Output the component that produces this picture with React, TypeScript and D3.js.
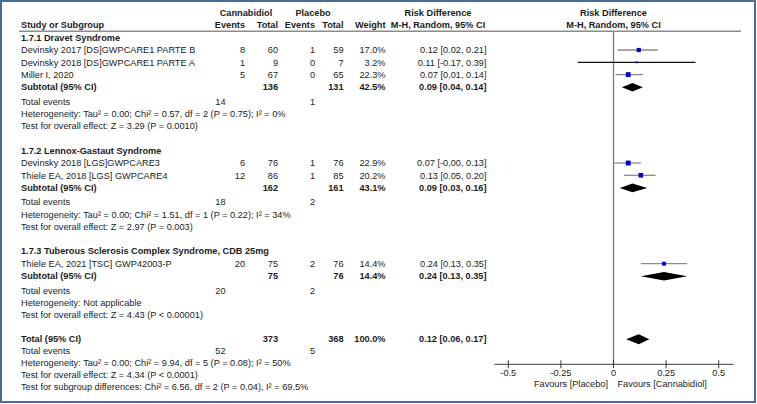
import React from 'react';
import * as d3 from 'd3';

// ---------- data ----------
const groupLabels = [
  '1.7.1 Dravet Syndrome',
  '1.7.2 Lennox-Gastaut Syndrome',
  '1.7.3 Tuberous Sclerosis Complex Syndrome, CDB 25mg',
];
const studyGroup = [0, 0, 0, 1, 1, 2];
const studyNames = [
  'Devinsky 2017 [DS]GWPCARE1 PARTE B',
  'Devinsky 2018 [DS]GWPCARE1 PARTE A',
  'Miller I, 2020',
  'Devinsky 2018 [LGS]GWPCARE3',
  'Thiele EA, 2018 [LGS] GWPCARE4',
  'Thiele EA, 2021 [TSC] GWP42003-P',
];
const cbdEvents = [8, 1, 5, 6, 12, 20];
const cbdTotal = [60, 9, 67, 76, 86, 75];
const plcEvents = [1, 0, 0, 1, 1, 2];
const plcTotal = [59, 7, 65, 76, 85, 76];
const studyWeight = [17.0, 3.2, 22.3, 22.9, 20.2, 14.4];
const studyRd = [0.12, 0.11, 0.07, 0.07, 0.13, 0.24];
const studyLow = [0.02, -0.17, 0.01, -0.0, 0.05, 0.13];
const studyHigh = [0.21, 0.39, 0.14, 0.13, 0.2, 0.35];
const studyCiLabels = [
  '0.12 [0.02, 0.21]',
  '0.11 [-0.17, 0.39]',
  '0.07 [0.01, 0.14]',
  '0.07 [-0.00, 0.13]',
  '0.13 [0.05, 0.20]',
  '0.24 [0.13, 0.35]',
];

const subCbdTotal = [136, 162, 75];
const subPlcTotal = [131, 161, 76];
const subWeight = [42.5, 43.1, 14.4];
const subRd = [0.09, 0.09, 0.24];
const subLow = [0.04, 0.03, 0.13];
const subHigh = [0.14, 0.16, 0.35];
const subCiLabels = ['0.09 [0.04, 0.14]', '0.09 [0.03, 0.16]', '0.24 [0.13, 0.35]'];
const subCbdEvents = [14, 18, 20];
const subPlcEvents = [1, 2, 2];
const subHeterogeneity = [
  'Heterogeneity: Tau² = 0.00; Chi² = 0.57, df = 2 (P = 0.75); I² = 0%',
  'Heterogeneity: Tau² = 0.00; Chi² = 1.51, df = 1 (P = 0.22); I² = 34%',
  'Heterogeneity: Not applicable',
];
const subOverall = [
  'Test for overall effect: Z = 3.29 (P = 0.0010)',
  'Test for overall effect: Z = 2.97 (P = 0.003)',
  'Test for overall effect: Z = 4.43 (P < 0.00001)',
];

const totalCbd = 373;
const totalPlc = 368;
const totalWeight = 100.0;
const totalRd = 0.12;
const totalLow = 0.06;
const totalHigh = 0.17;
const totalCiLabel = '0.12 [0.06, 0.17]';
const totalCbdEvents = 52;
const totalPlcEvents = 5;
const totalHeterogeneity = 'Heterogeneity: Tau² = 0.00; Chi² = 9.94, df = 5 (P = 0.08); I² = 50%';
const totalOverall = 'Test for overall effect: Z = 4.34 (P < 0.0001)';
const subgroupDiff = 'Test for subgroup differences: Chi² = 6.56, df = 2 (P = 0.04), I² = 69.5%';

const tickValues = [-0.5, -0.25, 0, 0.25, 0.5];
const tickLabels = ['-0.5', '-0.25', '0', '0.25', '0.5'];
const favoursLeft = 'Favours [Placebo]';
const favoursRight = 'Favours [Cannabidiol]';

// ---------- layout ----------
const W = 757;
const H = 404;
const FONT = "'Liberation Sans', Arial, Helvetica, sans-serif";
const FS = 9.2;
const TXT = '#1c1c1c';

const col = {
  name: 21,
  cbdEv: 245,
  cbdTot: 278,
  plcEv: 315,
  plcTot: 343.5,
  weight: 385.5,
  ci: 486.5,
  ciHead: 438,
  cbdTotEvents: 225.5,
  plcTotEvents: 315,
};

const pct = (v: number) => v.toFixed(1) + '%';

type Row =
  | { type: 'group'; y: number; g: number }
  | { type: 'study'; y: number; i: number }
  | { type: 'sub'; y: number; g: number }
  | { type: 'events'; y: number; g: number }
  | { type: 'het'; y: number; g: number }
  | { type: 'test'; y: number; g: number };

function buildRows() {
  const rows: Row[] = [];
  let y = 37.2;
  groupLabels.forEach((_, g) => {
    if (g > 0) y += 24.4;
    rows.push({ type: 'group', y, g });
    y += 12.8;
    studyNames
      .map((_, i) => i)
      .filter((i) => studyGroup[i] === g)
      .forEach((i, k) => {
        if (k > 0) y += 12.3;
        rows.push({ type: 'study', y, i });
      });
    y += 12.3;
    rows.push({ type: 'sub', y, g });
    y += 14.3;
    rows.push({ type: 'events', y, g });
    y += 12.3;
    rows.push({ type: 'het', y, g });
    y += 12.3;
    rows.push({ type: 'test', y, g });
  });
  const totalY = y + 24;
  return { rows, totalY };
}

const T = (props: any) => {
  const { x, y, anchor = 'start', bold = false, children, fill = TXT } = props;
  return (
    <text
      x={x}
      y={y + 3.3}
      textAnchor={anchor}
      fontWeight={bold ? 'bold' : 'normal'}
      fontFamily={FONT}
      fontSize={FS}
      fill={fill}
    >
      {children}
    </text>
  );
};

export default function App() {
  const x = d3.scaleLinear().domain([-0.5, 0.5]).range([508.3, 718.7]);
  const { rows, totalY } = buildRows();
  const axisY = 364.3;
  const zeroTop = 32;
  const sq = d3.scaleSqrt().domain([0, 100]).range([0, 10.2]);

  const diamond = (y: number, lo: number, est: number, hi: number, hh: number) =>
    `M${x(lo)},${y} L${x(est)},${y - hh} L${x(hi)},${y} L${x(est)},${y + hh} Z`;

  const els: React.ReactNode[] = [];
  rows.forEach((r, k) => {
    if (r.type === 'group') {
      els.push(
        <T key={k} x={col.name} y={r.y} bold>
          {groupLabels[r.g]}
        </T>
      );
    } else if (r.type === 'study') {
      const i = r.i;
      const s = sq(studyWeight[i]);
      els.push(
        <g key={k}>
          <T x={col.name} y={r.y}>{studyNames[i]}</T>
          <T x={col.cbdEv} y={r.y} anchor="end">{cbdEvents[i]}</T>
          <T x={col.cbdTot} y={r.y} anchor="end">{cbdTotal[i]}</T>
          <T x={col.plcEv} y={r.y} anchor="end">{plcEvents[i]}</T>
          <T x={col.plcTot} y={r.y} anchor="end">{plcTotal[i]}</T>
          <T x={col.weight} y={r.y} anchor="end">{pct(studyWeight[i])}</T>
          <T x={col.ci} y={r.y} anchor="end">{studyCiLabels[i]}</T>
          <line
            x1={x(studyLow[i])}
            x2={x(studyHigh[i])}
            y1={r.y}
            y2={r.y}
            stroke={i === 1 ? '#111' : '#8a8a8a'}
            strokeWidth={1.3}
          />
          <rect x={x(studyRd[i]) - s / 2} y={r.y - s / 2} width={s} height={s} fill="#0000cc" />
        </g>
      );
    } else if (r.type === 'sub') {
      const g = r.g;
      els.push(
        <g key={k}>
          <T x={col.name} y={r.y} bold>Subtotal (95% CI)</T>
          <T x={col.cbdTot} y={r.y} anchor="end" bold>{subCbdTotal[g]}</T>
          <T x={col.plcTot} y={r.y} anchor="end" bold>{subPlcTotal[g]}</T>
          <T x={col.weight} y={r.y} anchor="end" bold>{pct(subWeight[g])}</T>
          <T x={col.ci} y={r.y} anchor="end" bold>{subCiLabels[g]}</T>
          <path d={diamond(r.y + 0.3, subLow[g], subRd[g], subHigh[g], 4.3)} fill="#000" />
        </g>
      );
    } else if (r.type === 'events') {
      els.push(
        <g key={k}>
          <T x={col.name} y={r.y}>Total events</T>
          <T x={col.cbdTotEvents} y={r.y} anchor="end">{subCbdEvents[r.g]}</T>
          <T x={col.plcTotEvents} y={r.y} anchor="end">{subPlcEvents[r.g]}</T>
        </g>
      );
    } else if (r.type === 'het') {
      els.push(<T key={k} x={col.name} y={r.y}>{subHeterogeneity[r.g]}</T>);
    } else {
      els.push(<T key={k} x={col.name} y={r.y}>{subOverall[r.g]}</T>);
    }
  });

  const tY = totalY;
  const step = 12;

  return (
    <svg
      width={W}
      height={H}
      viewBox={`0 0 ${W} ${H}`}
      style={{ position: 'absolute', left: 0, top: 0, background: '#fff' }}
    >
      <rect x={0} y={0} width={W} height={H} fill="#fff" />
      {/* headers */}
      <T x={246} y={12.3} anchor="middle" bold>Cannabidiol</T>
      <T x={313} y={12.3} anchor="middle" bold>Placebo</T>
      <T x={col.ciHead} y={12.3} anchor="middle" bold>Risk Difference</T>
      <T x={x(0)} y={12.3} anchor="middle" bold>Risk Difference</T>
      <T x={col.name} y={24.5} bold>Study or Subgroup</T>
      <T x={col.cbdEv} y={24.5} anchor="end" bold>Events</T>
      <T x={col.cbdTot} y={24.5} anchor="end" bold>Total</T>
      <T x={col.plcEv} y={24.5} anchor="end" bold>Events</T>
      <T x={col.plcTot} y={24.5} anchor="end" bold>Total</T>
      <T x={col.weight} y={24.5} anchor="end" bold>Weight</T>
      <T x={col.ciHead} y={24.5} anchor="middle" bold>M-H, Random, 95% CI</T>
      <T x={x(0)} y={24.5} anchor="middle" bold>M-H, Random, 95% CI</T>
      <line x1={19} x2={741} y1={31.3} y2={31.3} stroke="#8c8c8c" strokeWidth={1.6} />

      {/* zero line */}
      <line x1={x(0)} x2={x(0)} y1={zeroTop} y2={axisY} stroke="#7a7a7a" strokeWidth={1.3} />

      {els}

      {/* total */}
      <T x={col.name} y={tY} bold>Total (95% CI)</T>
      <T x={col.cbdTot} y={tY} anchor="end" bold>{totalCbd}</T>
      <T x={col.plcTot} y={tY} anchor="end" bold>{totalPlc}</T>
      <T x={col.weight} y={tY} anchor="end" bold>{pct(totalWeight)}</T>
      <T x={col.ci} y={tY} anchor="end" bold>{totalCiLabel}</T>
      <path d={diamond(tY + 0.3, totalLow, totalRd, totalHigh, 5)} fill="#000" />
      <T x={col.name} y={tY + step}>Total events</T>
      <T x={col.cbdTotEvents} y={tY + step} anchor="end">{totalCbdEvents}</T>
      <T x={col.plcTotEvents} y={tY + step} anchor="end">{totalPlcEvents}</T>
      <T x={col.name} y={tY + step * 2}>{totalHeterogeneity}</T>
      <T x={col.name} y={tY + step * 3}>{totalOverall}</T>
      <T x={col.name} y={tY + step * 4}>{subgroupDiff}</T>

      {/* axis */}
      <line x1={x.range()[0] - 14} x2={x.range()[1] + 15} y1={axisY} y2={axisY} stroke="#3a3a3a" strokeWidth={1} />
      {tickValues.map((v, i) => (
        <g key={i}>
          <line x1={x(v)} x2={x(v)} y1={axisY - 4} y2={axisY + 4} stroke="#3a3a3a" strokeWidth={1} />
          <T x={x(v)} y={373} anchor="middle">{tickLabels[i]}</T>
        </g>
      ))}
      <T x={x(0) - 5.5} y={384} anchor="end">{favoursLeft}</T>
      <T x={x(0) + 4} y={384}>{favoursRight}</T>

      {/* frame */}
      <rect x={1} y={1} width={W - 3} height={H - 3} fill="none" stroke="#4a6c98" strokeWidth={2} />
    </svg>
  );
}
